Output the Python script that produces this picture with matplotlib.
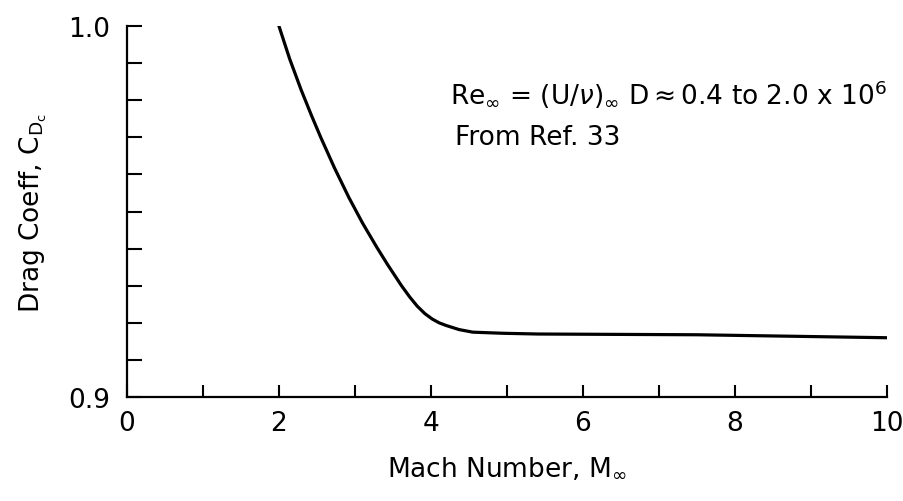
import numpy as np
import matplotlib
matplotlib.use('Agg')
import matplotlib.pyplot as plt
from matplotlib.ticker import MultipleLocator, FixedLocator

plt.rcParams['font.family'] = ['DejaVu Sans']
plt.rcParams['mathtext.fontset'] = 'dejavusans'

# curve
mach = [2.0, 2.14, 2.29, 2.43, 2.55, 2.73, 2.92, 3.10, 3.29, 3.43, 3.61,
        3.72, 3.82, 3.92, 4.02, 4.11, 4.2, 4.37, 4.55, 4.95, 5.41, 7.5, 10.0]
cd = [1.0, 0.9912, 0.9829, 0.9758, 0.97, 0.9618, 0.9538, 0.9469, 0.9403,
      0.9357, 0.9301, 0.927, 0.9245, 0.9225, 0.921, 0.92, 0.9193, 0.9182,
      0.9175, 0.9172, 0.917, 0.9168, 0.916]

xticks = [0, 2, 4, 6, 8, 10]
yticks = [0.9, 1.0]
ylabels = ['0.9', '1.0']

fig = plt.figure(figsize=(9.04, 5.02), dpi=100)
ax = fig.add_axes([0.1405, 0.207, 0.8405, 0.739])

ax.plot(mach, cd, color='black', linewidth=2.3, solid_joinstyle='round')

ax.set_xlim(0, 10)
ax.set_ylim(0.9, 1.0)
ax.spines['top'].set_visible(False)
ax.spines['right'].set_visible(False)
ax.spines['left'].set_linewidth(1.6)
ax.spines['bottom'].set_linewidth(1.6)

ax.xaxis.set_major_locator(FixedLocator(xticks))
ax.xaxis.set_minor_locator(MultipleLocator(1))
ax.yaxis.set_major_locator(FixedLocator(yticks))
ax.set_yticklabels(ylabels)
ax.yaxis.set_minor_locator(MultipleLocator(0.01))

ax.tick_params(axis='x', which='both', direction='in', length=9, width=1.5,
               labelsize=19, pad=9)
ax.tick_params(axis='y', which='both', direction='in', length=11, width=1.5,
               labelsize=19, pad=12)

ax.set_xlabel('Mach Number, $\\mathrm{M}_\\infty$', fontsize=19, labelpad=14)
ax.set_ylabel('Drag Coeff, $\\mathrm{C}_{\\mathrm{D}_\\mathrm{c}}$', fontsize=19, labelpad=14)

ax.text(0.425, 0.82, 'Re$_\\infty$ = (U/$\\nu$)$_\\infty$ D$\\approx$0.4 to 2.0 x 10$^6$',
        transform=ax.transAxes, fontsize=19, ha='left', va='center')
ax.text(0.432, 0.70, 'From Ref. 33', transform=ax.transAxes, fontsize=19,
        ha='left', va='center')

fig.savefig('out.png', dpi=100)
